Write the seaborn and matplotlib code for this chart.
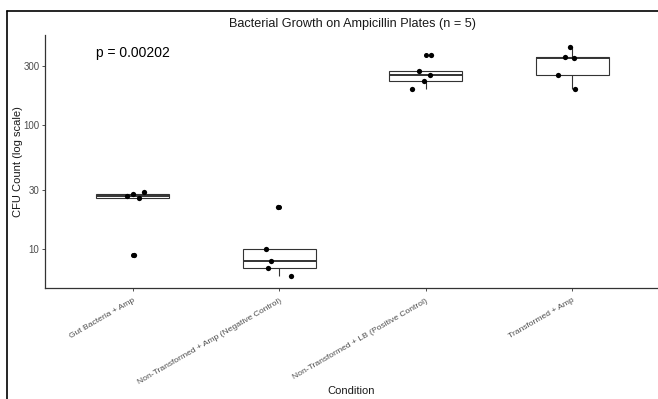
import numpy as np
import pandas as pd
import matplotlib
matplotlib.use("Agg")
import matplotlib.pyplot as plt
from matplotlib.lines import Line2D
from matplotlib.ticker import FixedLocator, FixedFormatter, NullLocator
import seaborn as sns

conditions = [
    "Gut Bacteria + Amp",
    "Non-Transformed + Amp (Negative Control)",
    "Non-Transformed + LB (Positive Control)",
    "Transformed + Amp",
]
gut_amp = [9, 26, 27, 28, 29]
nontrans_amp = [6, 7, 8, 10, 22]
nontrans_lb = [195, 226, 254, 273, 365]
trans_amp = [195, 254, 349, 355, 428]
y_ticks = [10, 30, 100, 300]
y_tick_labels = ["10", "30", "100", "300"]
title = "Bacterial Growth on Ampicillin Plates (n = 5)"
p_label = "p = 0.00202"

df = pd.DataFrame({
    "Condition": np.repeat(conditions, 5),
    "CFU": gut_amp + nontrans_amp + nontrans_lb + trans_amp,
})

sns.set_style("white")
plt.rcParams["font.family"] = ["Liberation Sans", "DejaVu Sans"]

fig = plt.figure(figsize=(6.58, 3.99), dpi=100)
ax = fig.add_axes([45 / 658, 111 / 399, 615 / 658, 253 / 399])
ax.set_yscale("log")

sns.boxplot(
    data=df, x="Condition", y="CFU", order=conditions, ax=ax,
    color="white", linecolor="#333333", linewidth=0.8, width=0.5,
    whis=1.5, showcaps=False,
    medianprops=dict(color="#333333", linewidth=1.4),
    flierprops=dict(marker="o", markerfacecolor="black",
                    markeredgecolor="black", markersize=2.6, linestyle="none"),
)
np.random.seed(3)
sns.stripplot(
    data=df, x="Condition", y="CFU", order=conditions, ax=ax,
    jitter=0.1, color="black", size=3.8, linewidth=0,
)

ax.set_xlim(-0.6, 3.6)
ax.set_ylim(4.845, 533.7)
ax.yaxis.set_major_locator(FixedLocator(y_ticks))
ax.yaxis.set_major_formatter(FixedFormatter(y_tick_labels))
ax.yaxis.set_minor_locator(NullLocator())

for side in ["top", "right"]:
    ax.spines[side].set_visible(False)
for side in ["left", "bottom"]:
    ax.spines[side].set_color("#333333")
    ax.spines[side].set_linewidth(0.9)

ax.tick_params(axis="both", which="major", length=2.5, width=0.6,
               color="#333333", labelcolor="#4D4D4D", labelsize=7, pad=1.5,
               left=True, bottom=True)
ax.tick_params(axis="x", pad=4)
plt.setp(ax.get_xticklabels(), rotation=30, ha="right", rotation_mode="anchor",
         fontsize=6.1)

ax.set_xlabel("Condition", fontsize=8, color="#1a1a1a")
ax.xaxis.set_label_coords(306 / 615, -(386 - 288) / 253)
ax.set_ylabel("CFU Count (log scale)", fontsize=8, color="#1a1a1a")
ax.yaxis.set_label_coords(-(45 - 23) / 615, 0.5)
ax.set_title(title, fontsize=9.1, color="#1a1a1a", pad=6)

ax.text(0, 385, p_label, ha="center", va="center", fontsize=10, color="black")

fig.add_artist(Line2D([7 / 658, 7 / 658], [0, 1 - 11 / 399], color="black",
                      linewidth=1.2, transform=fig.transFigure))
fig.add_artist(Line2D([7 / 658, 1], [1 - 11 / 399, 1 - 11 / 399], color="black",
                      linewidth=1.2, transform=fig.transFigure))

fig.savefig("out.png", dpi=100)
